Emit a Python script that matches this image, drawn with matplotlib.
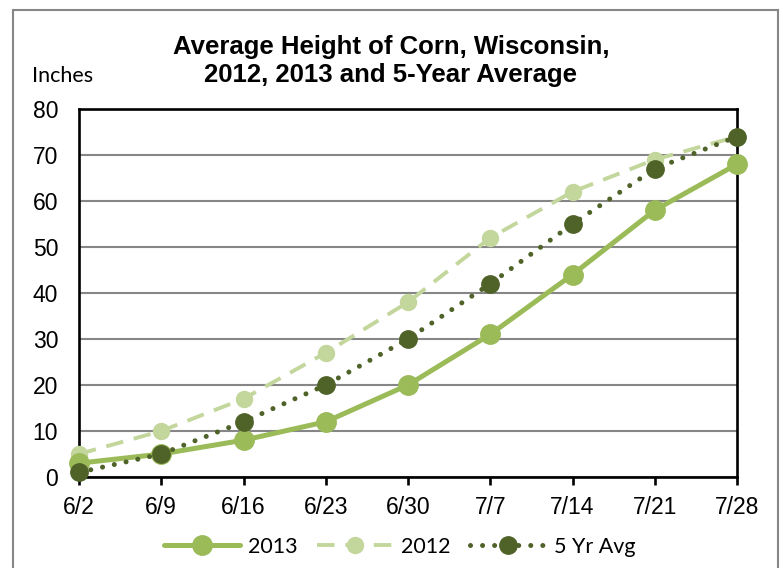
import matplotlib
matplotlib.use("Agg")
import matplotlib.pyplot as plt
from matplotlib.patches import Rectangle

# data (inches)
dates = ["6/2", "6/9", "6/16", "6/23", "6/30", "7/7", "7/14", "7/21", "7/28"]
h2013 = [3, 5, 8, 12, 20, 31, 44, 58, 68]
h2012 = [5, 10, 17, 27, 38, 52, 62, 69, 74]
avg5 = [1, 5, 12, 20, 30, 42, 55, 67, 74]

C2013 = "#9BBB59"
C2012 = "#C3D69B"
CAVG = "#4F6228"

W, H = 783, 568
fig = plt.figure(figsize=(W / 100, H / 100), dpi=100)
ax = fig.add_axes([79 / W, 1 - 477 / H, (737 - 79) / W, (477 - 109) / H])

# outer chart border (bottom runs off the canvas)
fig.patches.append(Rectangle((13 / W, -0.05), (778 - 13) / W, 1.05 - 10 / H,
                             transform=fig.transFigure, fill=False,
                             edgecolor="#868686", lw=1.5))

x = list(range(len(dates)))
ax.plot(x, h2013, "-o", color=C2013, lw=3.6, ms=14, label="2013",
        solid_capstyle="round", zorder=3, clip_on=False)
ax.plot(x, h2012, "--o", color=C2012, lw=2.8, ms=11.5, label="2012",
        dashes=(4.5, 2.8), zorder=2, clip_on=False)
ax.plot(x, avg5, ":o", color=CAVG, lw=3.6, ms=12.5, label="5 Yr Avg",
        dashes=(0.01, 2.4), dash_capstyle="round", zorder=4, clip_on=False)

ax.set_xlim(0, len(dates) - 1)
ax.set_ylim(0, 80)
ax.set_yticks(range(0, 81, 10))
ax.set_xticks(x)
ax.set_xticklabels(dates)
ax.grid(axis="y", color="#868686", lw=1.5)
ax.set_axisbelow(True)
for s in ax.spines.values():
    s.set_color("black")
    s.set_linewidth(1.9)
    s.set_zorder(1.5)
ax.tick_params(axis="y", length=0, pad=15, labelsize=16.5,
               labelfontfamily="Liberation Sans")
ax.tick_params(axis="x", length=6, width=1.9, direction="out", pad=8,
               labelsize=16.5, labelfontfamily="Liberation Sans")

fig.text(391 / W, 1 - 35 / H,
         "Average Height of Corn, Wisconsin,\n2012, 2013 and 5-Year Average",
         ha="center", va="top", fontsize=18.5, fontweight="bold",
         family="Liberation Sans", linespacing=1.2)
fig.text(32 / W, 1 - 76 / H, "Inches", ha="left", va="center",
         fontsize=15.5, family="Lato")

ax.legend(loc="center", bbox_to_anchor=(400 / W, 1 - 547 / H),
          bbox_transform=fig.transFigure, ncol=3, frameon=False,
          prop={"family": "Lato", "size": 15.5}, handlelength=3.5,
          handletextpad=0.4, columnspacing=0.9, borderaxespad=0)

fig.savefig("out.png", dpi=100)
